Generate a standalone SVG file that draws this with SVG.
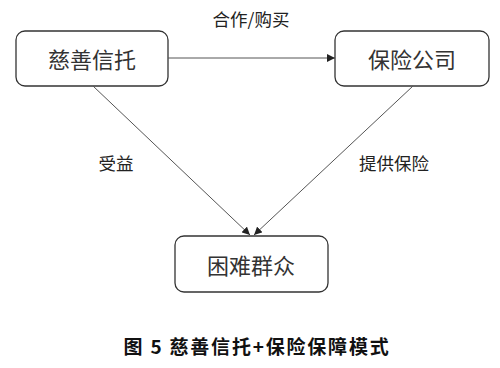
<svg xmlns="http://www.w3.org/2000/svg" width="500" height="368" viewBox="0 0 500 368">
<style>
.box{fill:#fff;stroke:#333;stroke-width:1.3}
.bt{font-family:"Noto Sans CJK SC","Noto Sans",sans-serif;font-size:22px;fill:#333;text-anchor:middle;dominant-baseline:central}
.lb{font-family:"Noto Sans CJK SC","Noto Sans",sans-serif;font-size:17.5px;fill:#222;text-anchor:middle;dominant-baseline:central}
.ln{stroke:#555;stroke-width:1;fill:none}
.cap{font-family:"Noto Sans CJK SC","Noto Sans",sans-serif;font-size:19px;font-weight:bold;fill:#111;text-anchor:middle;dominant-baseline:central;letter-spacing:1.8px}
</style>
<defs>
<marker id="ah" viewBox="0 0 10 10" refX="10" refY="5" markerWidth="8" markerHeight="8" markerUnits="userSpaceOnUse" orient="auto">
<path d="M0,0 L10,5 L0,10 z" fill="#222"/>
</marker>
</defs>
<rect width="500" height="368" fill="#fff"/>
<g id="n1"><rect class="box" x="16" y="31" width="152" height="55" rx="9"/><text class="bt" x="92" y="58">慈善信托</text></g>
<g id="n2"><rect class="box" x="335" y="31" width="154" height="55" rx="9"/><text class="bt" x="412" y="58">保险公司</text></g>
<g id="n3"><rect class="box" x="175" y="236" width="153" height="56" rx="9"/><text class="bt" x="251" y="264">困难群众</text></g>
<g id="connectors">
<line class="ln" x1="168" y1="58" x2="335" y2="58" marker-end="url(#ah)"/>
<line class="ln" x1="93" y1="86" x2="250" y2="235" marker-end="url(#ah)"/>
<line class="ln" x1="413" y1="86" x2="254" y2="235" marker-end="url(#ah)"/>
<text class="lb" x="251" y="18">合作/购买</text>
<text class="lb" x="116" y="162">受益</text>
<text class="lb" x="394" y="162">提供保险</text>
</g>
<text class="cap" x="257" y="345">图 5 慈善信托+保险保障模式</text>
</svg>
